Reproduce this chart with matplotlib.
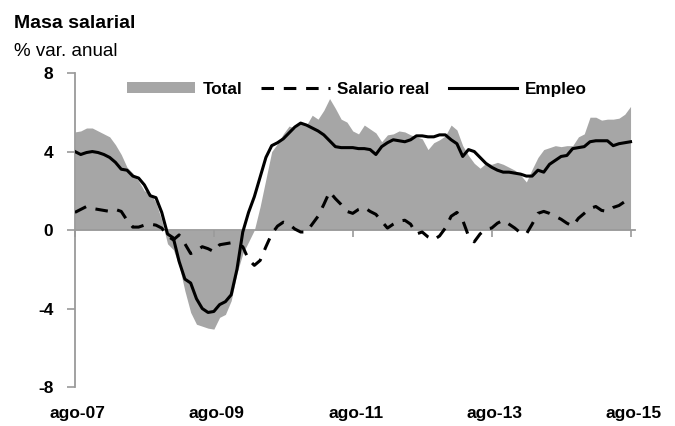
import matplotlib
matplotlib.use("Agg")
import matplotlib.pyplot as plt
import numpy as np

plt.rcParams['font.family'] = ['Liberation Sans', 'DejaVu Sans']

# Monthly data, ago-07 .. ago-15 (97 months)
total = [5.0, 5.05, 5.2, 5.2, 5.05, 4.9, 4.75, 4.35, 3.85, 3.2,
         2.9, 2.5, 2.0, 1.9, 1.4, 0.5, -0.7, -1.0, -1.8, -3.1,
         -4.2, -4.8, -4.9, -5.0, -5.05, -4.45, -4.3, -3.6, -2.2, -1.2,
         -0.6, 0.0, 1.2, 2.6, 4.0, 4.4, 4.9, 5.3, 5.2, 5.45,
         5.35, 5.85, 5.65, 6.1, 6.7, 6.2, 5.65, 5.5, 5.05, 4.9,
         5.35, 5.15, 4.95, 4.5, 4.85, 4.9, 5.05, 5.0, 4.85, 4.75,
         4.65, 4.1, 4.45, 4.6, 4.8, 5.35, 5.1, 4.3, 3.8, 3.4,
         3.15, 3.4, 3.35, 3.45, 3.35, 3.2, 3.05, 2.8, 2.45, 3.1,
         3.7, 4.1, 4.2, 4.3, 4.25, 4.3, 4.3, 4.75, 4.9, 5.75,
         5.75, 5.6, 5.65, 5.65, 5.7, 5.9, 6.3]

salario_real = [0.9, 1.05, 1.2, 1.1, 1.05, 1.0, 0.95, 1.05, 0.95, 0.5,
                0.15, 0.15, 0.25, 0.3, 0.25, 0.1, -0.3, -0.5, -0.25, -0.7,
                -1.2, -1.05, -0.85, -0.95, -1.1, -0.75, -0.7, -0.65, -0.7, -0.85,
                -1.5, -1.8, -1.55, -0.85, -0.2, 0.2, 0.4, 0.3, 0.05, -0.1,
                -0.1, 0.3, 0.7, 1.3, 1.95, 1.6, 1.3, 0.95, 0.85, 1.05,
                1.15, 0.95, 0.8, 0.45, 0.1, 0.3, 0.45, 0.5, 0.3, -0.2,
                -0.1, -0.35, -0.5, -0.3, 0.1, 0.7, 0.9, 0.5, -0.3, -0.6,
                -0.2, 0.05, 0.1, 0.35, 0.5, 0.3, 0.1, -0.15, -0.2, 0.3,
                0.85, 0.95, 0.85, 0.7, 0.55, 0.35, 0.2, 0.6, 0.85, 1.1,
                1.2, 1.0, 0.95, 1.15, 1.25, 1.45, 1.6]

empleo = [4.0, 3.85, 3.95, 4.0, 3.95, 3.85, 3.7, 3.45, 3.1, 3.05,
          2.75, 2.65, 2.3, 1.75, 1.65, 0.9, -0.2, -0.4, -1.6, -2.5,
          -2.7, -3.5, -4.0, -4.2, -4.15, -3.8, -3.65, -3.3, -2.0, -0.1,
          0.9, 1.7, 2.7, 3.7, 4.3, 4.45, 4.65, 4.95, 5.25, 5.45,
          5.35, 5.2, 5.05, 4.85, 4.55, 4.25, 4.2, 4.2, 4.2, 4.15,
          4.15, 4.1, 3.85, 4.25, 4.45, 4.6, 4.55, 4.5, 4.6, 4.8,
          4.8, 4.75, 4.75, 4.85, 4.85, 4.6, 4.4, 3.75, 4.1, 4.0,
          3.7, 3.4, 3.2, 3.05, 2.95, 2.95, 2.9, 2.85, 2.75, 2.75,
          3.05, 2.95, 3.35, 3.55, 3.75, 3.8, 4.15, 4.2, 4.25, 4.5,
          4.55, 4.55, 4.55, 4.3, 4.4, 4.45, 4.5]

tick_labels = ['ago-07', 'ago-09', 'ago-11', 'ago-13', 'ago-15']
ytick_values = [-8, -4, 0, 4, 8]

x = np.arange(len(total))
tick_pos = np.arange(0, len(total), 24)

GREY_FILL = '#A6A6A6'
AXIS_GREY = '#9A9A9A'

fig = plt.figure(figsize=(6.75, 4.26), dpi=100)
ax = fig.add_axes([0.111, 0.0915, 0.830, 0.737])

ax.fill_between(x, 0, total, color=GREY_FILL, lw=0, label='Total', zorder=1)
ax.plot(x, salario_real, color='black', lw=2.2, linestyle=(0, (4.1, 3.2)),
        label='Salario real', zorder=3)
ax.plot(x, empleo, color='black', lw=2.2, label='Empleo', zorder=4)

ax.set_xlim(0, 96.8)
ax.set_ylim(-8, 8)

for s in ['top', 'right']:
    ax.spines[s].set_visible(False)
ax.spines['bottom'].set_position(('data', 0))
ax.spines['bottom'].set_color(AXIS_GREY)
ax.spines['left'].set_color(AXIS_GREY)
ax.spines['bottom'].set_linewidth(1.3)
ax.spines['left'].set_linewidth(1.3)
ax.spines['bottom'].set_zorder(2)

ax.set_xticks(tick_pos)
ax.tick_params(axis='x', direction='out', length=5, width=1.2,
               color=AXIS_GREY, labelbottom=False)
ax.set_yticks(ytick_values)
ax.set_yticklabels([str(v) for v in ytick_values], fontsize=12.5,
                   fontweight='bold')
ax.tick_params(axis='y', direction='out', length=6, width=1.2,
               color=AXIS_GREY, pad=9.5)

for p, lab in zip(tick_pos, tick_labels):
    ax.text(p + 0.5, -9.33, lab, ha='center', va='center', fontsize=12.5,
            fontweight='bold', clip_on=False)

leg = ax.legend(loc='center', bbox_to_anchor=(0.503, 0.949), ncol=3,
                frameon=False, handlelength=4.0, handleheight=0.55,
                handletextpad=0.45, columnspacing=1.1,
                prop={'weight': 'bold', 'size': 12.3})

fig.text(0.021, 0.934, 'Masa salarial', fontsize=14, fontweight='bold',
         va='baseline', ha='left')
fig.text(0.021, 0.868, '% var. anual', fontsize=13.5, va='baseline',
         ha='left')

fig.savefig('out.png', dpi=100)
